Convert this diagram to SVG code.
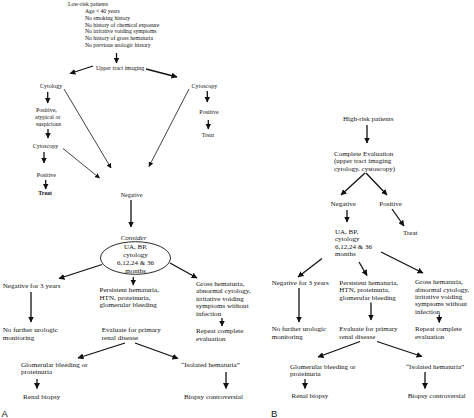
<svg xmlns="http://www.w3.org/2000/svg" width="474" height="418" viewBox="0 0 474 418">
<style>
text{font-family:"Liberation Serif","Times New Roman",serif;fill:#111}
.s{font-size:5.7px}
.m{font-size:6px}
.l{font-size:7.1px}
.b{font-size:7px}
.bt{font-size:7px}
.c{font-size:7px}
.lbl{font-family:"Liberation Sans",Arial,sans-serif;font-size:9.5px}
.k{stroke:#111;stroke-width:1.3;fill:none}
.t{stroke:#111;stroke-width:0.8;fill:none}
</style>
<defs>
<marker id="ah" markerUnits="userSpaceOnUse" markerWidth="6" markerHeight="6" refX="5.5" refY="3" orient="auto">
<path d="M0,0 L6,3 L0,6 z" fill="#111"/>
</marker>
<marker id="ahs" markerUnits="userSpaceOnUse" markerWidth="5" markerHeight="5" refX="4.5" refY="2.5" orient="auto">
<path d="M0,0 L5,2.5 L0,5 z" fill="#111"/>
</marker>
</defs>

<g id="connectors">
<!-- panel A -->
<line class="k" x1="116.5" y1="53" x2="116.5" y2="63" marker-end="url(#ah)"/>
<line class="k" x1="93" y1="66" x2="70" y2="73.5" marker-end="url(#ah)"/>
<line class="k" x1="146" y1="69" x2="177" y2="77" marker-end="url(#ah)"/>
<line class="t" x1="64" y1="89" x2="111" y2="168" marker-end="url(#ahs)"/>
<line class="t" x1="189" y1="89" x2="149" y2="166.5" marker-end="url(#ahs)"/>
<line class="k" x1="47.7" y1="92" x2="47.7" y2="103" marker-end="url(#ah)"/>
<line class="k" x1="48" y1="129" x2="48" y2="138" marker-end="url(#ah)"/>
<line class="k" x1="44" y1="152" x2="44" y2="163" marker-end="url(#ah)"/>
<line class="k" x1="45.7" y1="180" x2="45.7" y2="189" marker-end="url(#ah)"/>
<line class="t" x1="63" y1="148.5" x2="99.5" y2="178" marker-end="url(#ahs)"/>
<line class="k" x1="207.3" y1="91" x2="207.3" y2="102" marker-end="url(#ah)"/>
<line class="k" x1="208.3" y1="120" x2="208.3" y2="129" marker-end="url(#ah)"/>
<line class="k" x1="131" y1="200" x2="131" y2="227" marker-end="url(#ah)"/>
<line class="k" x1="102" y1="264.5" x2="59" y2="278.5" marker-end="url(#ah)"/>
<line class="k" x1="133.3" y1="277" x2="133.3" y2="285" marker-end="url(#ah)"/>
<line class="k" x1="170" y1="263" x2="197" y2="278" marker-end="url(#ah)"/>
<line class="k" x1="31" y1="292" x2="31" y2="322" marker-end="url(#ah)"/>
<line class="k" x1="222" y1="318" x2="222" y2="326" marker-end="url(#ah)"/>
<line class="k" x1="125" y1="343" x2="78" y2="358" marker-end="url(#ah)"/>
<line class="k" x1="135" y1="343" x2="178" y2="358.5" marker-end="url(#ah)"/>
<line class="k" x1="37" y1="379" x2="37" y2="388.5" marker-end="url(#ah)"/>
<line class="k" x1="226" y1="372" x2="226" y2="388.5" marker-end="url(#ah)"/>
<!-- panel B -->
<line class="k" x1="367" y1="125" x2="367" y2="143" marker-end="url(#ah)"/>
<line class="k" x1="365" y1="173" x2="341" y2="195" marker-end="url(#ah)"/>
<line class="k" x1="366" y1="173" x2="387" y2="195" marker-end="url(#ah)"/>
<line class="k" x1="347" y1="210" x2="347" y2="222" marker-end="url(#ah)"/>
<line class="k" x1="392" y1="209" x2="404" y2="226" marker-end="url(#ah)"/>
<line class="k" x1="322" y1="258.5" x2="298" y2="277" marker-end="url(#ah)"/>
<line class="k" x1="359" y1="262" x2="367" y2="275.5" marker-end="url(#ah)"/>
<line class="k" x1="381" y1="252" x2="423" y2="273" marker-end="url(#ah)"/>
<line class="k" x1="299" y1="288" x2="299" y2="322" marker-end="url(#ah)"/>
<line class="k" x1="371" y1="302.5" x2="371" y2="320" marker-end="url(#ah)"/>
<line class="k" x1="439.3" y1="314.5" x2="439.3" y2="322.5" marker-end="url(#ah)"/>
<line class="k" x1="360" y1="341.5" x2="318" y2="357" marker-end="url(#ah)"/>
<line class="k" x1="377" y1="341.5" x2="422" y2="356.5" marker-end="url(#ah)"/>
<line class="k" x1="305" y1="379" x2="305" y2="388.5" marker-end="url(#ah)"/>
<line class="k" x1="425" y1="372" x2="425" y2="388.5" marker-end="url(#ah)"/>
</g>

<!-- Panel A nodes -->
<g id="a-lowrisk">
<text class="s" x="68" y="6">Low-risk patients</text>
<text class="s" x="85" y="12.8">Age &lt; 40 years</text>
<text class="s" x="85" y="19.6">No smoking history</text>
<text class="s" x="85" y="26.5">No history of chemical exposure</text>
<text class="s" x="85" y="33.4">No irritative voiding symptoms</text>
<text class="s" x="85" y="40.4">No history of gross hematuria</text>
<text class="s" x="85" y="47.4">No previous urologic history</text>
</g>
<g id="a-imaging"><text class="m" x="96" y="69.5">Upper tract imaging</text></g>
<g id="a-cytology"><text class="m" x="40" y="87.7">Cytology</text></g>
<g id="a-cytoscopy-r"><text class="m" x="191.5" y="87.7">Cytoscopy</text></g>
<g id="a-positive-atyp">
<text class="m" x="36" y="112.3">Positive,</text>
<text class="m" x="35" y="119.3">atypical or</text>
<text class="m" x="36" y="126.3">suspicious</text>
</g>
<g id="a-cytoscopy-l"><text class="m" x="32.7" y="148">Cytoscopy</text></g>
<g id="a-positive-l"><text class="m" x="36.7" y="177">Positive</text></g>
<g id="a-treat-l"><text class="m" x="38.3" y="195.3" font-weight="bold">Treat</text></g>
<g id="a-positive-r"><text class="m" x="199.3" y="114">Positive</text></g>
<g id="a-treat-r"><text class="m" x="201.7" y="137">Treat</text></g>
<g id="a-negative"><text class="m" x="120.7" y="197">Negative</text></g>
<g id="a-consider"><text x="120.7" y="239.5" font-size="7px" font-style="italic">Consider</text></g>
<g id="a-followup">
<ellipse cx="135.5" cy="258" rx="35" ry="16.3" fill="none" stroke="#111" stroke-width="0.9"/>
<text class="c" x="135.5" y="249" text-anchor="middle">UA, BP,</text>
<text class="c" x="135.5" y="257" text-anchor="middle">cytology</text>
<text class="c" x="135.5" y="265" text-anchor="middle">6,12,24 &amp; 36</text>
<text class="c" x="135.5" y="272.5" text-anchor="middle">months</text>
</g>
<g id="a-neg3"><text class="l" x="2.7" y="288">Negative for 3 years</text></g>
<g id="a-persistent">
<text class="l" x="99.5" y="292.3">Persistent hematuria,</text>
<text class="l" x="99.5" y="299.7">HTN, proteinuria,</text>
<text class="l" x="99.5" y="307.1">glomerular bleeding</text>
</g>
<g id="a-gross">
<text class="l" x="196" y="286">Gross hematuria,</text>
<text class="l" x="196" y="293.4">abnormal cytology,</text>
<text class="l" x="196" y="300.8">irritative voiding</text>
<text class="l" x="196" y="308.2">symptoms without</text>
<text class="l" x="196" y="315.6">infection</text>
</g>
<g id="a-nofurther">
<text class="l" x="2.7" y="332.3">No further urologic</text>
<text class="l" x="2.7" y="339.7">monitoring</text>
</g>
<g id="a-evaluate">
<text class="l" x="101.7" y="332.3">Evaluate for primary</text>
<text class="l" x="101.7" y="339.7">renal disease</text>
</g>
<g id="a-repeat">
<text class="l" x="196" y="333.2">Repeat complete</text>
<text class="l" x="196" y="340.6">evaluation</text>
</g>
<g id="a-glomerular">
<text class="l" x="21" y="366.8">Glomerular bleeding or</text>
<text class="l" x="21" y="374.2">proteinuria</text>
</g>
<g id="a-isolated"><text class="l" x="181" y="367">“Isolated hematuria”</text></g>
<g id="a-renal"><text class="l" x="23" y="398.8">Renal biopsy</text></g>
<g id="a-controversial"><text class="l" x="184" y="398.8">Biopsy controversial</text></g>
<g id="label-a"><text class="lbl" x="1.5" y="417">A</text></g>

<!-- Panel B nodes -->
<g id="b-highrisk"><text class="bt" x="343" y="120.5">High-risk patients</text></g>
<g id="b-complete">
<text class="bt" x="334" y="156">Complete Evaluation</text>
<text class="bt" x="334" y="163.3">(upper tract imaging</text>
<text class="bt" x="334" y="170.6">cytology, cystoscopy)</text>
</g>
<g id="b-negative"><text class="b" x="330.5" y="205.5">Negative</text></g>
<g id="b-positive"><text class="b" x="379.3" y="205.5">Positive</text></g>
<g id="b-treat"><text class="b" x="403" y="235">Treat</text></g>
<g id="b-followup">
<text class="b" x="335" y="234">UA, BP,</text>
<text class="b" x="335" y="241.3">cytology</text>
<text class="b" x="335" y="248.6">6,12,24 &amp; 36</text>
<text class="b" x="335" y="255.9">months</text>
</g>
<g id="b-neg3"><text class="b" x="271.7" y="285">Negative for 3 years</text></g>
<g id="b-persistent">
<text class="b" x="339.3" y="285">Persistent hematuria,</text>
<text class="b" x="339.3" y="292.3">HTN, proteinuria,</text>
<text class="b" x="339.3" y="299.6">glomerular bleeding</text>
</g>
<g id="b-gross">
<text class="b" x="415" y="284.4">Gross hematuria,</text>
<text class="b" x="415" y="291.7">abnormal cytology,</text>
<text class="b" x="415" y="299">irritative voiding</text>
<text class="b" x="415" y="306.3">symptoms without</text>
<text class="b" x="415" y="313.6">infection</text>
</g>
<g id="b-nofurther">
<text class="b" x="271.7" y="331.3">No further urologic</text>
<text class="b" x="271.7" y="338.6">monitoring</text>
</g>
<g id="b-evaluate">
<text class="b" x="339.3" y="331.3">Evaluate for primary</text>
<text class="b" x="339.3" y="338.6">renal disease</text>
</g>
<g id="b-repeat">
<text class="b" x="415" y="331.3">Repeat complete</text>
<text class="b" x="415" y="338.6">evaluation</text>
</g>
<g id="b-glomerular">
<text class="b" x="290" y="368.6">Glomerular bleeding or</text>
<text class="b" x="290" y="375.9">proteinuria</text>
</g>
<g id="b-isolated"><text class="b" x="406" y="369">“Isolated hematuria”</text></g>
<g id="b-renal"><text class="b" x="291.5" y="398">Renal biopsy</text></g>
<g id="b-controversial"><text class="b" x="407.7" y="398">Biopsy controversial</text></g>
<g id="label-b"><text class="lbl" x="271" y="417">B</text></g>
</svg>
